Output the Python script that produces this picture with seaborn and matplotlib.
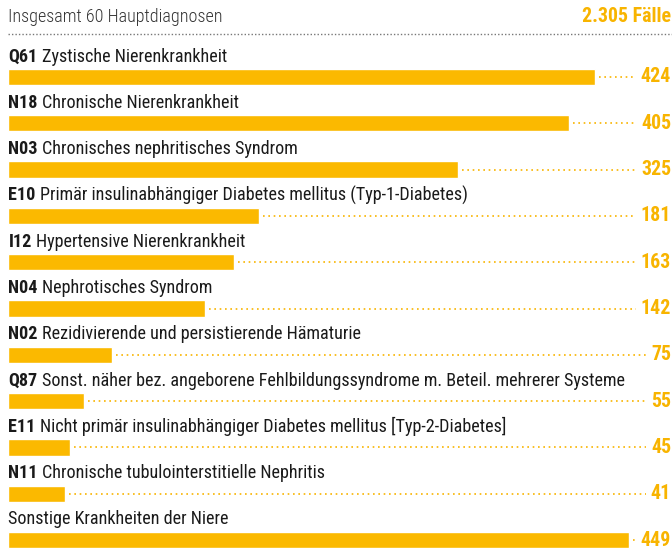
import matplotlib
matplotlib.use("Agg")
import matplotlib.pyplot as plt
import seaborn as sns
import pandas as pd

codes = ["Q61", "N18", "N03", "E10", "I12", "N04", "N02", "Q87", "E11", "N11", ""]
names = [
    "Zystische Nierenkrankheit",
    "Chronische Nierenkrankheit",
    "Chronisches nephritisches Syndrom",
    "Primär insulinabhängiger Diabetes mellitus (Typ-1-Diabetes)",
    "Hypertensive Nierenkrankheit",
    "Nephrotisches Syndrom",
    "Rezidivierende und persistierende Hämaturie",
    "Sonst. näher bez. angeborene Fehlbildungssyndrome m. Beteil. mehrerer Systeme",
    "Nicht primär insulinabhängiger Diabetes mellitus [Typ-2-Diabetes]",
    "Chronische tubulointerstitielle Nephritis",
    "Sonstige Krankheiten der Niere",
]
cases = [424, 405, 325, 181, 163, 142, 75, 55, 45, 41, 449]
header_left = "Insgesamt 60 Hauptdiagnosen"
header_right = "2.305 Fälle"

sns.set_theme(style="white")
plt.rcParams["font.family"] = ["Roboto Condensed", "Archivo Narrow", "DejaVu Sans"]

BAR = "#fbb900"
VAL = "#f8b400"
TXT = "#1a1a1a"

W, H = 672, 549
fig = plt.figure(figsize=(W / 100, H / 100), dpi=100)
ax = fig.add_axes([0, 0, 1, 1])

df = pd.DataFrame({"row": [str(i) for i in range(len(cases))], "cases": cases})
sns.barplot(data=df, x="cases", y="row", orient="h", color=BAR, width=0.35,
            saturation=1, ax=ax)

# pixel layout: first bar centred at y=77, rows every 46.3 px, x=0 at 8 px
row_px, first_px, x0_px, px_per_case = 46.3, 77.0, 8.0, 1.384
ax.set_xlim(-x0_px / px_per_case, (W - x0_px) / px_per_case)
ax.set_ylim((H - first_px) / row_px, -first_px / row_px)
ax.axis("off")

fig.canvas.draw()
renderer = fig.canvas.get_renderer()
inv = ax.transData.inverted()

def px_to_data(px, py):
    return inv.transform((px, H - py))

fs = 13.1
for i, (c, n, v) in enumerate(zip(codes, names, cases)):
    ly = i - 20.5 / row_px
    x = 0.3
    if c:
        t = ax.text(x, ly, c, fontsize=fs, fontweight="bold", color=TXT, va="center", ha="left")
        bb = t.get_window_extent(renderer)
        x = inv.transform((bb.x1 + 4, 0))[0]
    ax.text(x, ly, n, fontsize=fs, color=TXT, va="center", ha="left")

    vt = ax.text(inv.transform((W - 1, 0))[0], i, str(v), fontsize=fs + 1.2, fontweight="bold",
                 color=VAL, va="center", ha="right")
    vb = vt.get_window_extent(renderer)
    x_end = inv.transform((vb.x0 - 5, 0))[0]
    ax.plot([v + 4 / px_per_case, x_end], [i, i], color=VAL, lw=1.2,
            linestyle=(0, (1, 2.2)), solid_capstyle="butt")

# header row
hy = px_to_data(0, 17)[1]
ax.text(0.3, hy, header_left, fontsize=fs, color="#333333", va="center", ha="left",
        fontweight="light")
ax.text(inv.transform((W - 1, 0))[0], hy, header_right, fontsize=fs + 1.2,
        fontweight="bold", color=VAL, va="center", ha="right")
ly = px_to_data(0, 34)[1]
ax.plot([0, inv.transform((W, 0))[0]], [ly, ly], color="#777777", lw=1.0,
        linestyle=(0, (1, 1.5)))

fig.savefig("out.png", dpi=100)
